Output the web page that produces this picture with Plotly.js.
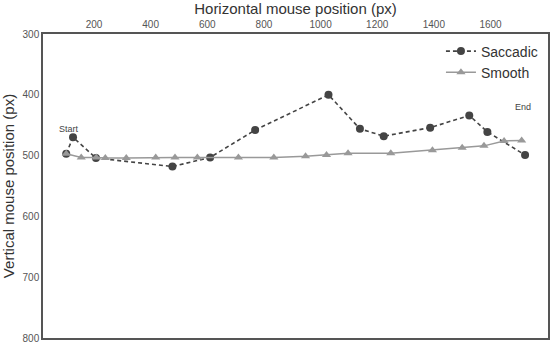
<!DOCTYPE html>
<html>
<head>
<meta charset="utf-8">
<script src="https://cdn.plot.ly/plotly-3.0.1.min.js"></script>
<style>
  html, body { margin: 0; padding: 0; background: #fff; }
  #chart { width: 554px; height: 349px; }
</style>
</head>
<body>
<div id="chart"></div>
<script>
// Saccadic mouse path (px)
let saccadicX = [102, 126, 207, 477, 610, 769, 1028, 1139, 1223, 1387, 1525, 1589, 1722];
let saccadicY = [497, 470, 504, 518, 503, 458, 400, 456, 468, 454, 434, 461, 499];

// Smooth mouse path (px)
let smoothX = [102, 155, 208, 240, 314, 418, 486, 565, 710, 835, 947, 1021, 1097, 1248, 1395, 1500, 1577, 1648, 1710];
let smoothY = [497, 503, 503, 504, 504, 503, 503, 503, 503, 503, 501, 499, 496, 496, 491, 487, 484, 476, 475];

let xTicks = [200, 400, 600, 800, 1000, 1200, 1400, 1600];
let yTicks = [300, 400, 500, 600, 700, 800];

var traceSaccadic = {
    x: saccadicX,
    y: saccadicY,
    mode: 'lines+markers',
    name: 'Saccadic',
    line: { color: '#444444', dash: '4px,3px', width: 1.6 },
    marker: { color: '#444444', size: 8, symbol: 'circle' }
}

var traceSmooth = {
    x: smoothX,
    y: smoothY,
    mode: 'lines+markers',
    name: 'Smooth',
    line: { color: '#999999', width: 1.5 },
    marker: { color: '#999999', size: 8, symbol: 'triangle-up' }
}

var layout = {
    width: 554,
    height: 349,
    margin: { l: 43, r: 6, t: 34, b: 11 },
    paper_bgcolor: '#ffffff',
    plot_bgcolor: '#ffffff',
    font: { family: 'Liberation Sans, Arial, sans-serif', color: '#333333' },
    showlegend: true,
    legend: {
        x: 0.99, xanchor: 'right',
        y: 0.995, yanchor: 'top',
        bgcolor: 'rgba(0,0,0,0)',
        font: { size: 14, color: '#333333' },
        itemwidth: 30,
        tracegroupgap: 0
    },
    xaxis: {
        side: 'top',
        range: [20, 1803],
        tickvals: xTicks,
        ticks: '',
        showgrid: false,
        zeroline: false,
        showline: true,
        mirror: true,
        linecolor: '#555555',
        linewidth: 1.5,
        tickfont: { size: 10, color: '#555555' },
        title: { text: 'Horizontal mouse position (px)', font: { size: 15, color: '#333333' }, standoff: 4 }
    },
    yaxis: {
        range: [800, 300],
        tickvals: yTicks,
        ticks: '',
        showgrid: false,
        zeroline: false,
        showline: true,
        mirror: true,
        linecolor: '#555555',
        linewidth: 1.5,
        tickfont: { size: 10, color: '#555555' },
        title: { text: 'Vertical mouse position (px)', font: { size: 15, color: '#333333' }, standoff: 4 }
    },
    annotations: [
        {
            x: saccadicX[0], y: saccadicY[0],
            text: 'Start', showarrow: false,
            xshift: 3, yshift: 25,
            font: { size: 9, color: '#444444' }
        },
        {
            x: saccadicX[saccadicX.length - 1], y: saccadicY[saccadicY.length - 1],
            text: 'End', showarrow: false,
            xshift: -2, yshift: 48,
            font: { size: 9, color: '#444444' }
        }
    ]
}

Plotly.newPlot('chart', [traceSaccadic, traceSmooth], layout, { displayModeBar: false });
</script>
</body>
</html>
